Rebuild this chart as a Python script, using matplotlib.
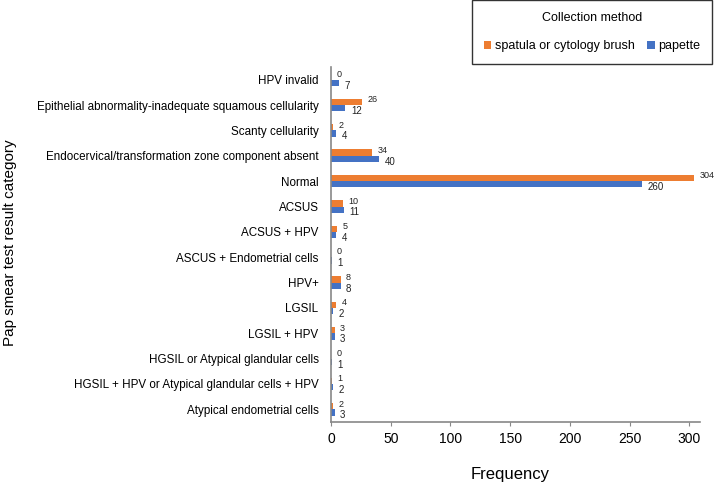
import matplotlib
matplotlib.use("Agg")
import matplotlib.pyplot as plt
import numpy as np

plt.rcParams['font.family'] = ['Liberation Sans', 'DejaVu Sans']

categories = [
    "HPV invalid",
    "Epithelial abnormality-inadequate squamous cellularity",
    "Scanty cellularity",
    "Endocervical/transformation zone component absent",
    "Normal",
    "ACSUS",
    "ACSUS + HPV",
    "ASCUS + Endometrial cells",
    "HPV+",
    "LGSIL",
    "LGSIL + HPV",
    "HGSIL or Atypical glandular cells",
    "HGSIL + HPV or Atypical glandular cells + HPV",
    "Atypical endometrial cells",
]
spatula = [0, 26, 2, 34, 304, 10, 5, 0, 8, 4, 3, 0, 1, 2]
papette = [7, 12, 4, 40, 260, 11, 4, 1, 8, 2, 3, 1, 2, 3]
series_names = ["spatula or cytology brush", "papette"]
xticks = [0, 50, 100, 150, 200, 250, 300]

c_orange = "#ED7D31"
c_blue = "#4472C4"

fig = plt.figure(figsize=(7.16, 4.86), dpi=100)
ax = fig.add_axes([0.4623, 0.1317, 0.5154, 0.7303])

y = np.arange(len(categories))
h = 0.25
ax.barh(y - h / 2, spatula, height=h, color=c_orange, label=series_names[0])
ax.barh(y + h / 2, papette, height=h, color=c_blue, label=series_names[1])

for yi, v in zip(y, spatula):
    ax.annotate(str(v), (v, yi - h / 2), xytext=(4, 1.5), textcoords="offset points",
                ha="left", va="center", fontsize=6.5, color="#222222")
for yi, v in zip(y, papette):
    ax.annotate(str(v), (v, yi + h / 2), xytext=(4, -2), textcoords="offset points",
                ha="left", va="center", fontsize=7, color="#222222")

ax.set_ylim(len(categories) - 0.5, -0.5)
ax.set_xlim(0, 309)
ax.set_yticks(y)
ax.set_yticklabels(categories, fontsize=8.4)
ax.set_xticks(xticks)
ax.set_xticklabels([str(t) for t in xticks], fontsize=10)
ax.tick_params(axis="y", length=0, pad=9)
ax.tick_params(axis="x", length=3, color="#888888", pad=4)
for s in ["top", "right"]:
    ax.spines[s].set_visible(False)
for s in ["left", "bottom"]:
    ax.spines[s].set_color("#888888")
    ax.spines[s].set_linewidth(1.2)

fig.text(0.713, 0.008, "Frequency", fontsize=12, ha="center", va="bottom")
fig.text(0.014, 0.50, "Pap smear test result category", fontsize=11, rotation=90,
         ha="center", va="center")

leg = fig.legend(loc="upper right", bbox_to_anchor=(0.994, 0.999), ncol=2,
                 title="Collection method", title_fontsize=9, fontsize=9,
                 handlelength=0.6, handleheight=0.6, handletextpad=0.3,
                 columnspacing=1.0, frameon=True, fancybox=False,
                 borderpad=0.9, labelspacing=0.5, borderaxespad=0)
leg.get_frame().set_edgecolor("black")
leg.get_frame().set_linewidth(1.0)
leg._legend_box.sep = 12

fig.savefig("out.png", dpi=100)
